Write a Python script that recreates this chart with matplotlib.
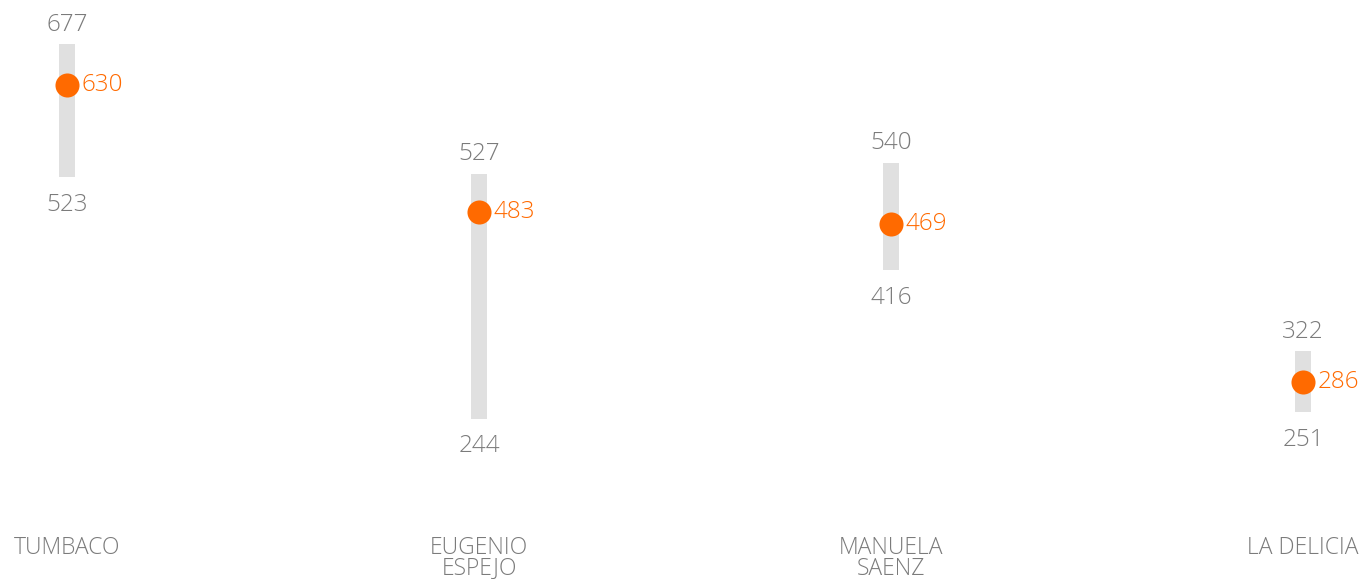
import matplotlib
matplotlib.use("Agg")
import matplotlib.pyplot as plt

# data
categories = ["TUMBACO", "EUGENIO\nESPEJO", "MANUELA\nSAENZ", "LA DELICIA"]
high = [677, 527, 540, 322]
low = [523, 244, 416, 251]
value = [630, 483, 469, 286]

gray_txt = "#7b7b7b"
orange = "#ff6a00"
bar_col = "#e0e0e0"

plt.rcParams['font.family'] = ['Open Sans', 'DejaVu Sans']

fig = plt.figure(figsize=(13.64, 5.79), dpi=100)
ax = fig.add_axes([0, 0, 1, 1])
ax.set_xlim(-0.163, 3.148)
ax.set_ylim(58.5, 727.9)
ax.axis("off")

x = list(range(len(categories)))
ax.vlines(x, low, high, colors=bar_col, linewidth=11.5, zorder=1)
ax.scatter(x, value, s=300, color=orange, zorder=3, linewidths=0)

for i in x:
    ax.annotate(str(high[i]), (i, high[i]), xytext=(0, 14), textcoords="offset points",
                ha="center", va="center", fontsize=17.5, color=gray_txt, fontweight="light")
    ax.annotate(str(low[i]), (i, low[i]), xytext=(0, -20), textcoords="offset points",
                ha="center", va="center", fontsize=17.5, color=gray_txt, fontweight="light")
    ax.annotate(str(value[i]), (i, value[i]), xytext=(10.5, 0), textcoords="offset points",
                ha="left", va="center", fontsize=17.5, color=orange, fontweight="light")
    ax.text(i, 108, categories[i], ha="center", va="top", fontsize=16.5, color=gray_txt,
            fontweight="light", linespacing=0.8)

fig.savefig("out.png", dpi=100)
